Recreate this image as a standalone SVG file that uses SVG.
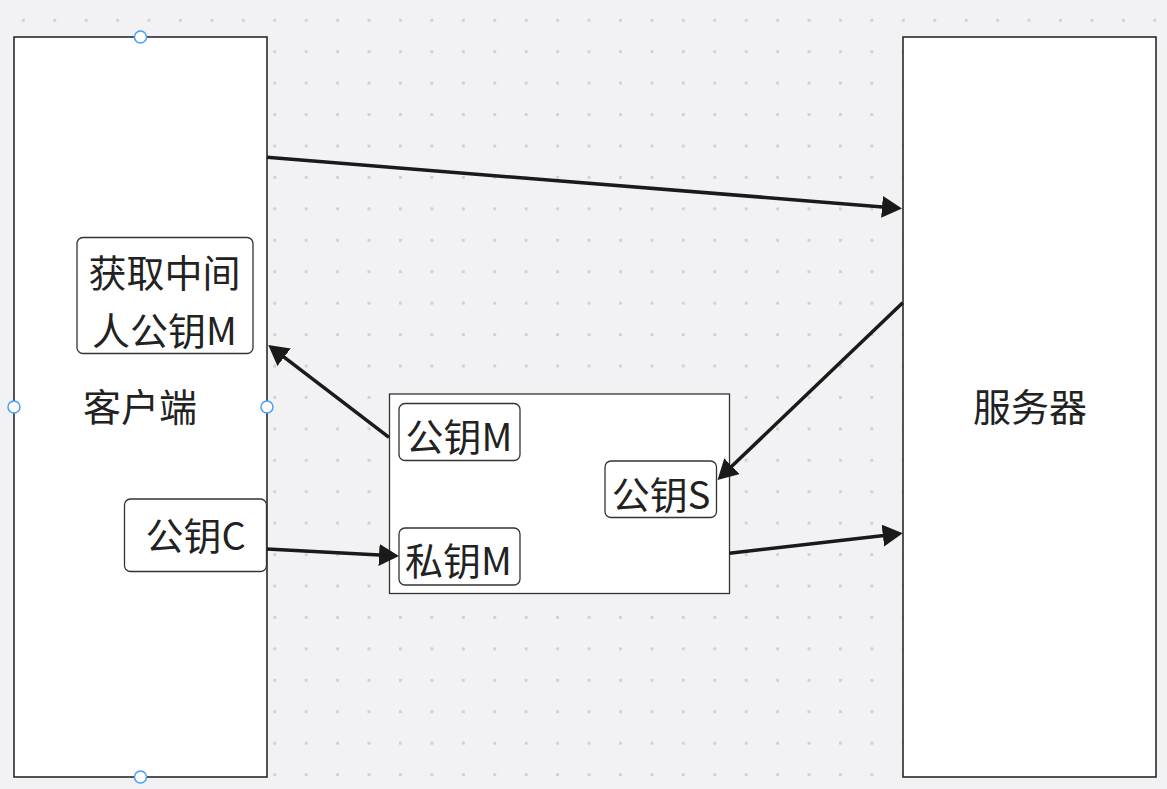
<svg xmlns="http://www.w3.org/2000/svg" width="1167" height="789" viewBox="0 0 1167 789">
<style>
.big{fill:#fff;stroke:#2a2a2a;stroke-width:1.6}
.box{fill:#fff;stroke:#333;stroke-width:1.3}
.t{font-family:"Noto Sans CJK SC","Noto Sans",sans-serif;font-size:38px;fill:#222;text-anchor:middle}
.c{fill:none;stroke:#1a1a1a;stroke-width:3.5}
.h{fill:#fff;stroke:#4a9df8;stroke-width:1.5}
</style>
<defs>
<pattern id="dots" patternUnits="userSpaceOnUse" x="21.8" y="18.8" width="31.43" height="31.43">
<rect x="0" y="0" width="3" height="3" fill="#d2d2d4"/>
</pattern>
<marker id="ah" viewBox="0 0 20 22" refX="10" refY="11" markerWidth="20" markerHeight="22" markerUnits="userSpaceOnUse" orient="auto">
<path d="M0,0 L20,11 L0,22 z" fill="#1a1a1a"/>
</marker>
</defs>
<rect width="1167" height="789" fill="#f2f2f4"/>
<rect width="1167" height="789" fill="url(#dots)"/>
<g id="client">
<rect class="big" x="14" y="37" width="253" height="740"/>
<text class="t" x="140" y="421">客户端</text>
</g>
<g id="server">
<rect class="big" x="903" y="37" width="253" height="740"/>
<text class="t" x="1030" y="421">服务器</text>
</g>
<g id="get-mitm-key">
<rect class="box" x="77" y="237.5" width="176" height="116" rx="6"/>
<text class="t" x="164.5" y="287">获取中间</text>
<text class="t" x="164.5" y="345">人公钥M</text>
</g>
<g id="pubkey-c">
<rect class="box" x="124.5" y="499" width="142" height="72.5" rx="6"/>
<text class="t" x="195.5" y="550">公钥C</text>
</g>
<g id="mitm">
<rect class="box" x="389.5" y="394" width="340" height="199.5"/>
</g>
<g id="pubkey-m">
<rect class="box" x="399" y="403.5" width="121" height="57" rx="6"/>
<text class="t" x="459" y="451">公钥M</text>
</g>
<g id="pubkey-s">
<rect class="box" x="605" y="461" width="111.5" height="56.5" rx="6"/>
<text class="t" x="661" y="509">公钥S</text>
</g>
<g id="privkey-m">
<rect class="box" x="399" y="528" width="121" height="57" rx="6"/>
<text class="t" x="458.5" y="575">私钥M</text>
</g>
<g id="connectors">
<line class="c" x1="267" y1="157.3" x2="892" y2="207.7" marker-end="url(#ah)"/>
<line class="c" x1="902.7" y1="302.7" x2="724.7" y2="473.1" marker-end="url(#ah)"/>
<line class="c" x1="389" y1="437.3" x2="276.2" y2="351.1" marker-end="url(#ah)"/>
<line class="c" x1="267" y1="549" x2="389" y2="555.5" marker-end="url(#ah)"/>
<line class="c" x1="729.3" y1="553.3" x2="892.8" y2="534.5" marker-end="url(#ah)"/>
</g>
<g id="handles">
<circle class="h" cx="140.5" cy="37" r="6"/>
<circle class="h" cx="140.5" cy="777" r="6"/>
<circle class="h" cx="14" cy="407" r="6"/>
<circle class="h" cx="267" cy="407" r="6"/>
</g>
</svg>
